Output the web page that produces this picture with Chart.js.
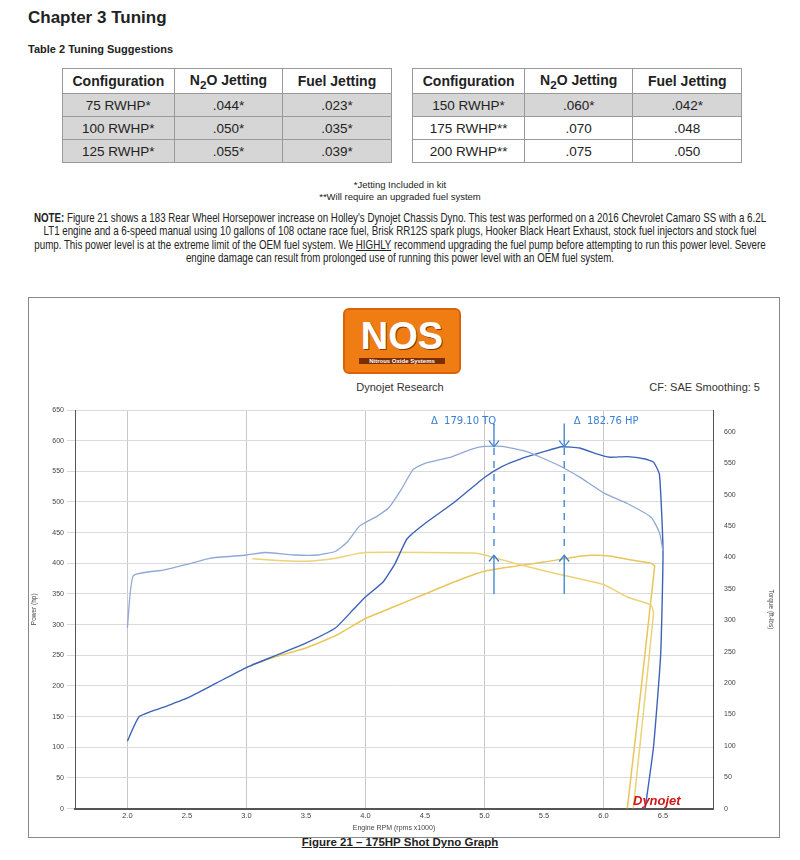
<!DOCTYPE html>
<html><head><meta charset="utf-8">
<script src="https://cdn.jsdelivr.net/npm/chart.js@4/dist/chart.umd.min.js"></script>
<style>
body{margin:0;width:800px;height:860px;background:#fff;font-family:"Liberation Sans",Arial,sans-serif;position:relative;overflow:hidden;color:#222}
.a{position:absolute}
table{border-collapse:collapse;font-size:13.5px}
td{border:1px solid #999;text-align:center;height:22px;padding:0}
th{border:1px solid #999;height:22px;font-weight:bold;font-size:14px}
</style></head><body>
<div class="a" style="left:28px;top:8px;font-size:17px;font-weight:bold">Chapter 3 Tuning</div>
<div class="a" style="left:28px;top:43px;font-size:11px;font-weight:bold">Table 2 Tuning Suggestions</div>
<table class="a" style="left:62px;top:68px;width:680px" id="tbl"></table>
<div class="a" style="left:0;width:800px;top:179px;text-align:center;font-size:9.5px;line-height:12px">*Jetting Included in kit<br>**Will require an upgraded fuel system</div>
<div class="a" style="left:30px;width:925px;top:212px;text-align:center;font-size:12.2px;line-height:13.3px;transform:scaleX(0.8);transform-origin:0 0"><b>NOTE:</b> Figure 21 shows a 183 Rear Wheel Horsepower increase on Holley's Dynojet Chassis Dyno. This test was performed on a 2016 Chevrolet Camaro SS with a 6.2L LT1 engine and a 6-speed manual using 10 gallons of 108 octane race fuel, Brisk RR12S spark plugs, Hooker Black Heart Exhaust, stock fuel injectors and stock fuel pump. This power level is at the extreme limit of the OEM fuel system. We <u>HIGHLY</u> recommend upgrading the fuel pump before attempting to run this power level. Severe engine damage can result from prolonged use of running this power level with an OEM fuel system.</div>
<div class="a" style="left:28px;top:297px;width:750px;height:539px;border:1px solid #888"></div>
<div class="a" style="left:343px;top:308px;width:118px;height:66px;background:#f07d14;border-radius:6px;border:2px solid #d9620a;box-sizing:border-box;text-align:center">
<div style="color:#fff;font:bold 38px 'Liberation Sans';line-height:44px;margin-top:4px;text-shadow:1px 1px 0 #8a3a00">NOS</div>
<div style="color:#fff;font:bold 6px 'Liberation Sans';background:#7a2d00;margin:0 14px">Nitrous Oxide Systems</div></div>
<div class="a" style="left:340px;top:381px;width:120px;text-align:center;font-size:11px;color:#333">Dynojet Research</div>
<div class="a" style="left:620px;top:381px;width:140px;text-align:right;font-size:11px;color:#333">CF: SAE Smoothing: 5</div>
<div class="a" style="left:30px;top:400px;width:745px;height:432px"><canvas id="c"></canvas></div>
<div class="a" style="left:0;width:800px;top:836px;text-align:center;font-size:11.5px;font-weight:bold;text-decoration:underline">Figure 21 – 175HP Shot Dyno Graph</div>
<script>
const tableHead=["Configuration","N<sub>2</sub>O Jetting","Fuel Jetting"];
const leftConfig=["75 RWHP*","100 RWHP*","125 RWHP*"],leftN2O=[".044*",".050*",".055*"],leftFuel=[".023*",".035*",".039*"];
const rightConfig=["150 RWHP*","175 RWHP**","200 RWHP**"],rightN2O=[".060*",".070",".075"],rightFuel=[".042*",".048",".050"];
let h='<tr>'+tableHead.map(t=>'<th style="width:110px">'+t+'</th>').join('')+'<th style="width:20px;border-top:none;border-bottom:none"></th>'+tableHead.map(t=>'<th style="width:110px">'+t+'</th>').join('')+'</tr>';
for(let i=0;i<3;i++){const gl='background:#d6d6d6',gr=i==0?'background:#d6d6d6':'';
h+='<tr>'+[leftConfig[i],leftN2O[i],leftFuel[i]].map(v=>'<td style="'+gl+'">'+v+'</td>').join('')+'<td style="border-top:none;border-bottom:none"></td>'+[rightConfig[i],rightN2O[i],rightFuel[i]].map(v=>'<td style="'+gr+'">'+v+'</td>').join('')+'</tr>';}
document.getElementById('tbl').innerHTML=h;

// dyno data (rpm x1000)
const nosPowerRpm=[2.0,2.1,2.3,2.5,2.75,3.0,3.25,3.5,3.75,3.9,4.0,4.15,4.25,4.35,4.5,4.75,5.0,5.15,5.3,5.5,5.65,5.8,5.95,6.05,6.2,6.35,6.42,6.47,6.5,6.48,6.42,6.35];
const nosPowerHp=[110,150,165,180,205,230,250,270,295,325,345,370,400,440,465,500,540,558,570,582,590,588,578,573,574,570,565,545,420,250,100,0];
const nosTorqueRpm=[2.0,2.05,2.3,2.5,2.7,3.0,3.15,3.4,3.6,3.75,3.85,3.95,4.1,4.2,4.3,4.4,4.5,4.7,4.9,5.0,5.15,5.35,5.6,5.8,6.0,6.2,6.4,6.47,6.5];
const nosTorqueFtlb=[288,371,380,389,399,404,408,404,404,410,425,450,466,480,508,540,550,559,573,577,577,569,549,528,503,486,464,440,410];
const baseTorqueRpm=[3.05,3.3,3.5,3.75,3.9,4.0,4.5,4.9,5.0,5.25,5.5,5.75,6.0,6.2,6.4,6.42,6.25];
const baseTorqueFtlb=[398,395,394,399,405,408,408,407,404,391,379,368,357,337,324,310,0];
const basePowerRpm=[3.05,3.25,3.5,3.75,4.0,4.25,4.5,4.75,5.0,5.25,5.5,5.75,5.9,6.05,6.25,6.4,6.43,6.2];
const basePowerHp=[235,248,262,282,310,330,350,370,387,395,402,410,413,412,405,400,395,0];
const xTickValues=[2.0,2.5,3.0,3.5,4.0,4.5,5.0,5.5,6.0,6.5];
const peakMarks=[{rpm:5.08,label:"Δ  179.10 TQ",lx:4.55},{rpm:5.67,label:"Δ  182.76 HP",lx:5.75}];
const pts=(xs,ys)=>xs.map((x,i)=>({x:x,y:ys[i]}));

const annot={id:'annot',afterDatasetsDraw(c){const g=c.ctx,x=c.scales.x,y=c.scales.y;g.save();g.strokeStyle='#3a7fd0';g.fillStyle='#3a7fd0';g.lineWidth=1.3;
peakMarks.forEach(m=>{const px=x.getPixelForValue(m.rpm);
g.beginPath();g.moveTo(px,y.getPixelForValue(628));g.lineTo(px,y.getPixelForValue(592));g.stroke();
g.beginPath();g.moveTo(px-5,y.getPixelForValue(600));g.lineTo(px,y.getPixelForValue(590));g.lineTo(px+5,y.getPixelForValue(600));g.stroke();
g.setLineDash([7,6]);g.beginPath();g.moveTo(px,y.getPixelForValue(588));g.lineTo(px,y.getPixelForValue(420));g.stroke();g.setLineDash([]);
g.beginPath();g.moveTo(px,y.getPixelForValue(350));g.lineTo(px,y.getPixelForValue(413));g.stroke();
g.beginPath();g.moveTo(px-5,y.getPixelForValue(403));g.lineTo(px,y.getPixelForValue(413));g.lineTo(px+5,y.getPixelForValue(403));g.stroke();
g.font='10px "DejaVu Sans"';g.fillText(m.label,x.getPixelForValue(m.lx),y.getPixelForValue(627));});
const a=c.chartArea;g.font='bold italic 13px "Liberation Sans"';g.fillStyle='#d01818';g.fillText('Dynojet',a.right-80,a.bottom-4);
g.restore();}};

const gridCol=v=>(Number.isInteger(v)?'#c8c8c8':'rgba(0,0,0,0)');
new Chart(document.getElementById('c'),{type:'line',
data:{datasets:[
{data:pts(nosTorqueRpm,nosTorqueFtlb),yAxisID:'y1',borderColor:'#8fa8d6',borderWidth:1.3},
{data:pts(nosPowerRpm,nosPowerHp),yAxisID:'y',borderColor:'#3d63b8',borderWidth:1.4},
{data:pts(baseTorqueRpm,baseTorqueFtlb),yAxisID:'y1',borderColor:'#ecd278',borderWidth:1.5},
{data:pts(basePowerRpm,basePowerHp),yAxisID:'y',borderColor:'#e8c65a',borderWidth:1.5}]},
options:{animation:false,responsive:true,maintainAspectRatio:false,
elements:{point:{radius:0},line:{tension:0.15}},
layout:{padding:{top:10,right:0,left:0,bottom:0}},
plugins:{legend:{display:false},tooltip:{enabled:false}},
scales:{
x:{type:'linear',min:1.56,max:6.92,afterBuildTicks:s=>{s.ticks=xTickValues.map(v=>({value:v}))},
ticks:{callback:v=>v.toFixed(1),font:{size:7.5},color:'#444',maxRotation:0},
grid:{color:c=>gridCol(c.tick?c.tick.value:0),drawTicks:false},border:{color:'#555',width:2},
title:{display:true,text:'Engine RPM (rpms x1000)',font:{size:7},color:'#444',padding:0}},
y:{min:0,max:650,afterBuildTicks:s=>{s.ticks=[];for(let v=0;v<=650;v+=50)s.ticks.push({value:v})},
afterFit:s=>{s.width=45},ticks:{font:{size:7},color:'#444'},grid:{color:'#dadada'},border:{color:'#555',width:1},
title:{display:true,text:'Power (hp)',font:{size:6.5},color:'#444',padding:0}},
y1:{position:'right',min:0,max:635,afterBuildTicks:s=>{s.ticks=[];for(let v=0;v<=600;v+=50)s.ticks.push({value:v})},
afterFit:s=>{s.width=62},ticks:{font:{size:7},color:'#444'},grid:{display:false},border:{color:'#555',width:1},
title:{display:true,text:'Torque (ft-lbs)',font:{size:6.5},color:'#444',padding:0}}}},
plugins:[annot]});
</script></body></html>
